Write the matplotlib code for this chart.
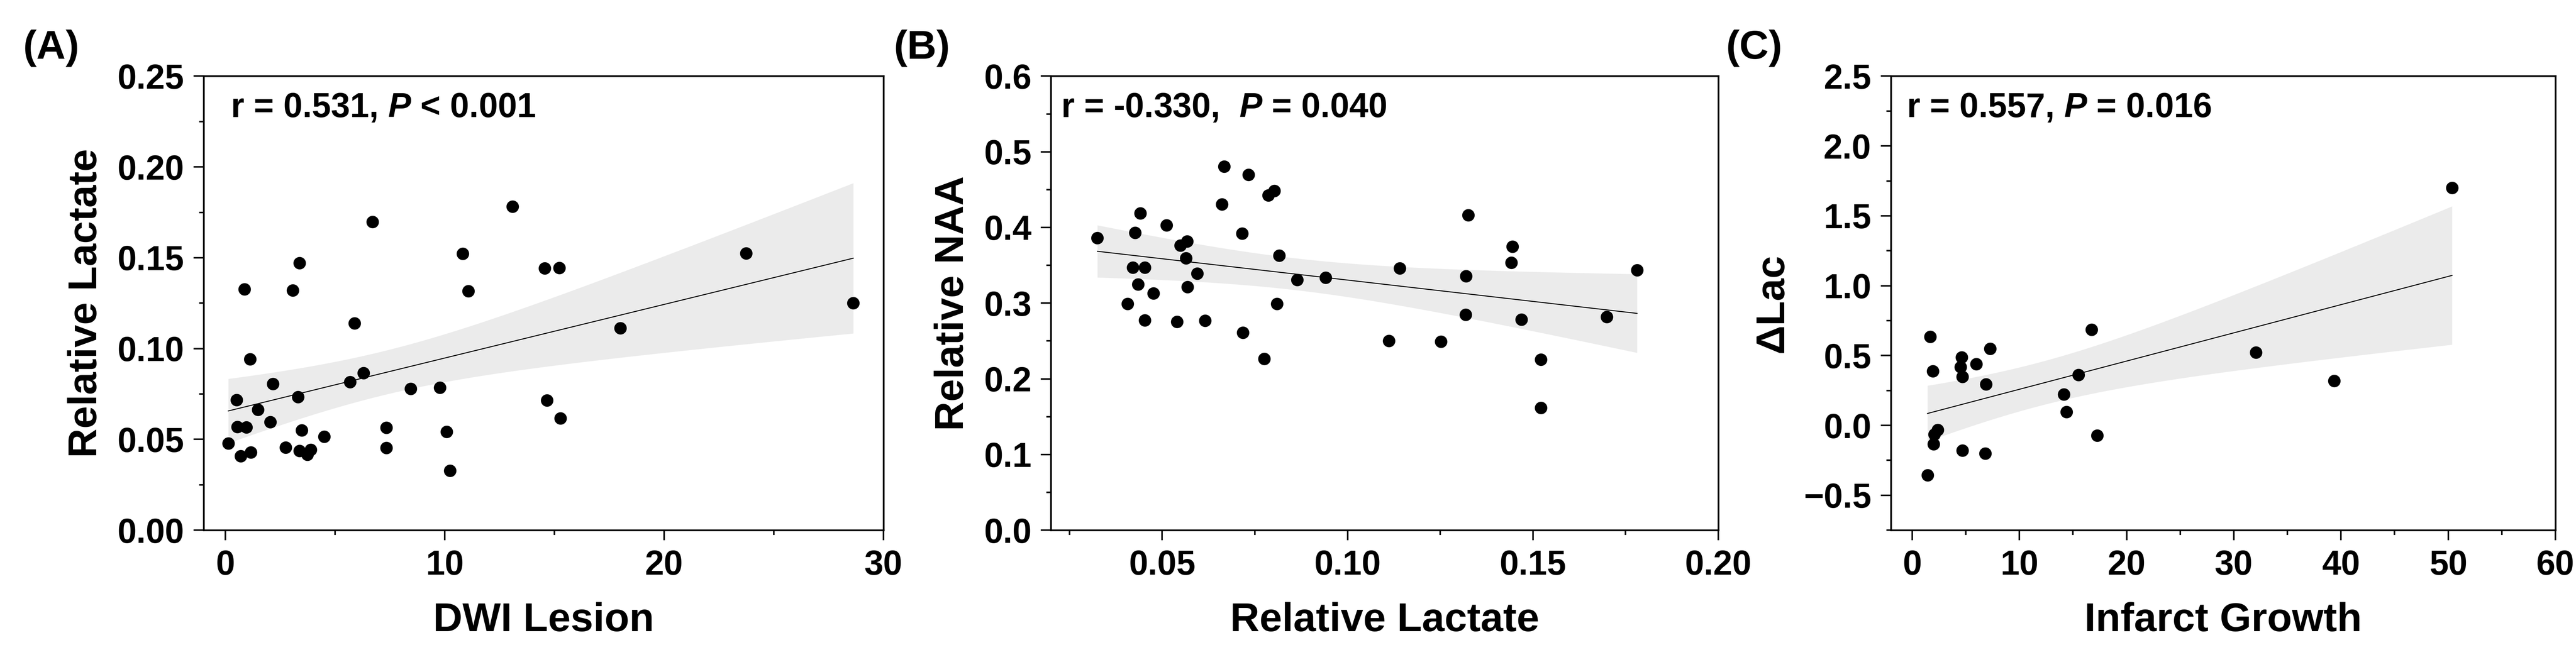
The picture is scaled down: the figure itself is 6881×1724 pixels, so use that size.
import math
import numpy as np
import matplotlib
matplotlib.use("Agg")
from matplotlib import pyplot as plt
from matplotlib.ticker import MultipleLocator

plt.rcParams['font.family'] = ['Liberation Sans', 'DejaVu Sans']
plt.rcParams['font.weight'] = 'bold'
plt.rcParams['mathtext.fontset'] = 'custom'
plt.rcParams['mathtext.rm'] = 'Liberation Sans:bold'
plt.rcParams['mathtext.it'] = 'Liberation Sans:italic:bold'

# (A) DWI lesion vs relative lactate
dwi_lesion = [0.13, 0.51, 0.54, 0.69, 0.87, 0.95, 1.13, 1.15, 1.48, 2.05,
              2.17, 2.74, 3.07, 3.30, 3.38, 3.38, 3.48, 3.73, 3.89, 4.50,
              5.68, 5.88, 6.29, 6.70, 7.34, 7.34, 8.44, 9.77, 10.08, 10.23,
              10.82, 11.07, 13.09, 14.55, 14.65, 15.22, 15.27, 18.00, 23.73, 28.62]
lactate_a = [0.0479, 0.0718, 0.0569, 0.0409, 0.1326, 0.0567, 0.0942, 0.0429, 0.0664, 0.0596,
             0.0806, 0.0456, 0.1321, 0.0734, 0.1470, 0.0436, 0.0551, 0.0416, 0.0443, 0.0515,
             0.0815, 0.1140, 0.0865, 0.1698, 0.0565, 0.0454, 0.0779, 0.0786, 0.0542, 0.0327,
             0.1522, 0.1317, 0.1782, 0.1443, 0.0716, 0.1445, 0.0617, 0.1113, 0.1524, 0.1251]

# (B) relative lactate vs relative NAA
lactate_b = [0.0325, 0.0407, 0.0421, 0.0427, 0.0435, 0.0441, 0.0453, 0.0453, 0.0476, 0.0512,
             0.0540, 0.0549, 0.0564, 0.0567, 0.0568, 0.0594, 0.0616, 0.0661, 0.0667, 0.0716,
             0.0718, 0.0733, 0.0775, 0.0786, 0.0803, 0.0810, 0.0816, 0.0864, 0.0941, 0.1112,
             0.1141, 0.1252, 0.1319, 0.1320, 0.1326, 0.1442, 0.1445, 0.1469, 0.1522, 0.1522,
             0.1699, 0.1781]
naa_b = [0.3863, 0.2992, 0.3469, 0.3930, 0.3247, 0.4190, 0.3469, 0.2775, 0.3130, 0.4030,
         0.2753, 0.3763, 0.3597, 0.3819, 0.3214, 0.3391, 0.2770, 0.4307, 0.4807, 0.3919,
         0.2609, 0.4696, 0.2265, 0.4424, 0.4485, 0.2992, 0.3630, 0.3308, 0.3336, 0.2503,
         0.3463, 0.2492, 0.2847, 0.3358, 0.4163, 0.3536, 0.3746, 0.2786, 0.2253, 0.1615,
         0.2820, 0.3436]

# (C) infarct growth vs delta lactate
infarct_growth = [1.42, 1.67, 1.93, 1.98, 2.08, 2.38, 4.61, 4.51, 4.67, 4.67, 5.98,
                  6.80, 6.90, 7.25, 14.15, 14.40, 15.52, 16.73, 17.24, 32.05, 39.35, 50.36]
delta_lac = [-0.355, 0.634, 0.388, -0.135, -0.063, -0.033, 0.487, 0.418, 0.349, -0.180, 0.439,
             -0.201, 0.295, 0.550, 0.222, 0.096, 0.361, 0.685, -0.072, 0.523, 0.319, 1.701]

band_color = '#ebebeb'


def t_crit(df, q=0.975):
    # t quantile by bisection on a numerically integrated pdf
    c = math.gamma((df + 1) / 2) / (math.sqrt(df * math.pi) * math.gamma(df / 2))
    def cdf(t):
        xs = np.linspace(0, t, 2001)
        ys = c * (1 + xs ** 2 / df) ** (-(df + 1) / 2)
        return 0.5 + np.trapezoid(ys, xs)
    lo, hi = 0.0, 10.0
    for _ in range(60):
        mid = (lo + hi) / 2
        if cdf(mid) < q:
            lo = mid
        else:
            hi = mid
    return (lo + hi) / 2


def fit_plot(ax, x, y):
    x = np.asarray(x)
    y = np.asarray(y)
    n = len(x)
    b, a = np.polyfit(x, y, 1)
    xs = np.linspace(x.min(), x.max(), 200)
    yh = a + b * xs
    resid = y - (a + b * x)
    s = np.sqrt(np.sum(resid ** 2) / (n - 2))
    se = s * np.sqrt(1 / n + (xs - x.mean()) ** 2 / np.sum((x - x.mean()) ** 2))
    t = t_crit(n - 2)
    ax.fill_between(xs, yh - t * se, yh + t * se, color=band_color, lw=0, zorder=1)
    ax.plot(xs, yh, color='black', lw=0.6, zorder=2)
    ax.plot(x, y, 'o', color='black', ms=7, zorder=3)


def style(ax):
    for sp in ax.spines.values():
        sp.set_linewidth(1.1)
    ax.tick_params(which='major', direction='out', length=6.5, width=1.0,
                   labelsize=22, pad=6)
    ax.tick_params(which='minor', direction='out', length=3, width=1.0)
    for lab in ax.get_xticklabels() + ax.get_yticklabels():
        lab.set_fontweight('bold')


fig = plt.figure(figsize=(6881 / 300, 1724 / 300), dpi=300)
axA = fig.add_axes([0.079, 0.178, 0.264, 0.704])
axB = fig.add_axes([0.408, 0.178, 0.259, 0.704])
axC = fig.add_axes([0.734, 0.178, 0.258, 0.704])

# A
fit_plot(axA, dwi_lesion, lactate_a)
axA.set_xlim(-1, 30)
axA.set_ylim(0, 0.25)
axA.xaxis.set_major_locator(MultipleLocator(10))
axA.xaxis.set_minor_locator(MultipleLocator(5))
axA.yaxis.set_major_locator(MultipleLocator(0.05))
axA.yaxis.set_minor_locator(MultipleLocator(0.025))
axA.yaxis.set_major_formatter(plt.FormatStrFormatter('%.2f'))
axA.set_xlabel('DWI Lesion', fontsize=26, fontweight='bold', labelpad=13)
axA.set_ylabel('Relative Lactate', fontsize=26, fontweight='bold', labelpad=8)
axA.text(0.04, 0.965, r'r = 0.531, $\mathit{P}$ < 0.001', transform=axA.transAxes,
         fontsize=22, fontweight='bold', va='top', ha='left')
style(axA)

# B
fit_plot(axB, lactate_b, naa_b)
axB.set_xlim(0.02, 0.20)
axB.set_ylim(0, 0.6)
axB.xaxis.set_major_locator(MultipleLocator(0.05))
axB.xaxis.set_minor_locator(MultipleLocator(0.025))
axB.yaxis.set_major_locator(MultipleLocator(0.1))
axB.yaxis.set_minor_locator(MultipleLocator(0.05))
axB.xaxis.set_major_formatter(plt.FormatStrFormatter('%.2f'))
axB.yaxis.set_major_formatter(plt.FormatStrFormatter('%.1f'))
axB.set_xlabel('Relative Lactate', fontsize=26, fontweight='bold', labelpad=13)
axB.set_ylabel('Relative NAA', fontsize=26, fontweight='bold', labelpad=8)
axB.text(0.015, 0.965, r'r = -0.330,  $\mathit{P}$ = 0.040', transform=axB.transAxes,
         fontsize=22, fontweight='bold', va='top', ha='left')
style(axB)

# C
fit_plot(axC, infarct_growth, delta_lac)
axC.set_xlim(-2, 60)
axC.set_ylim(-0.75, 2.5)
axC.xaxis.set_major_locator(MultipleLocator(10))
axC.xaxis.set_minor_locator(MultipleLocator(5))
axC.yaxis.set_major_locator(MultipleLocator(0.5))
axC.yaxis.set_minor_locator(MultipleLocator(0.25))
axC.yaxis.set_major_formatter(plt.FuncFormatter(lambda v, p: f'{v:.1f}'.replace('-', '\u2212')))
axC.set_xlabel('Infarct Growth', fontsize=26, fontweight='bold', labelpad=13)
axC.set_ylabel('\u0394Lac', fontsize=26, fontweight='bold', labelpad=8)
axC.text(0.024, 0.965, r'r = 0.557, $\mathit{P}$ = 0.016', transform=axC.transAxes,
         fontsize=22, fontweight='bold', va='top', ha='left')
style(axC)

fig.text(0.009, 0.925, '(A)', fontsize=26, fontweight='bold', va='center', ha='left')
fig.text(0.347, 0.925, '(B)', fontsize=26, fontweight='bold', va='center', ha='left')
fig.text(0.670, 0.925, '(C)', fontsize=26, fontweight='bold', va='center', ha='left')

fig.savefig('out.png', dpi=300)
